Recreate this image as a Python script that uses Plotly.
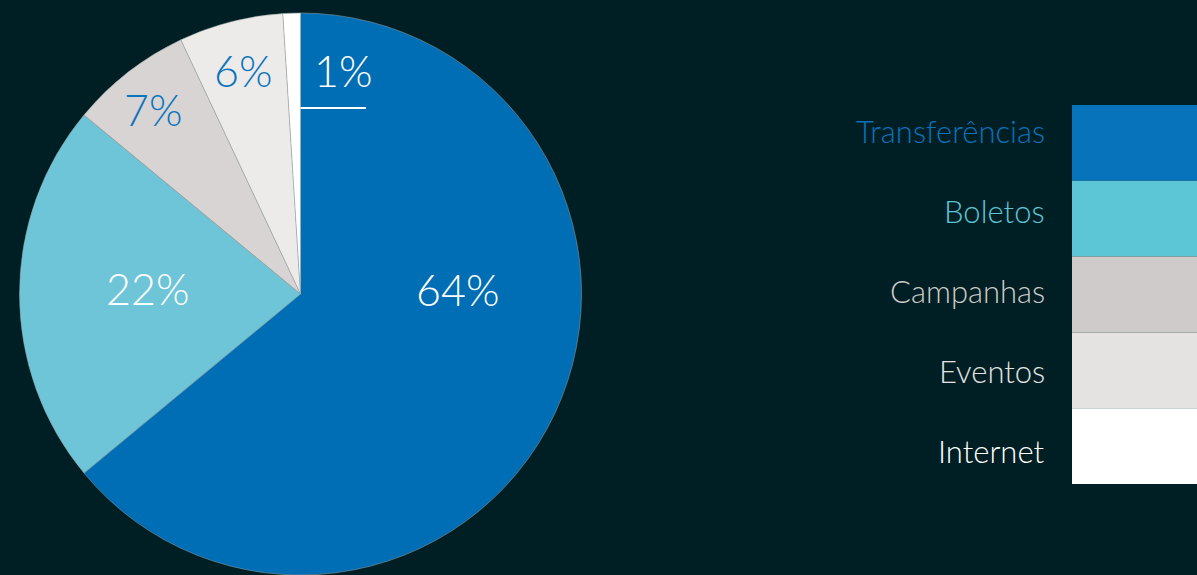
import math
import plotly.graph_objects as go

# ---- data ----
categories = ["Transferências", "Boletos", "Campanhas", "Eventos", "Internet"]
values = [64, 22, 7, 6, 1]
pct_labels = ["64%", "22%", "7%", "6%", "1%"]

# ---- styles ----
W, H = 1197, 575
BG = "#001f24"
slice_colors = ["#006eb5", "#6ec5d8", "#d9d4d4", "#ecebe9", "#ffffff"]
legend_colors = ["#0673bb", "#5cc6d6", "#cfcbca", "#e4e3e1", "#ffffff"]
pct_colors = ["#ffffff", "#ffffff", "#0a74bd", "#0a74bd", "#ffffff"]
FONT = "Lato"

# pie geometry (pixels)
M_TOP = 13
cx_px, R_px = 300.5, 281.0
cy_px = M_TOP + R_px
dom_x = [(cx_px - R_px) / W, (cx_px + R_px) / W]

def to_paper(px, py):
    return px / W, (H - py) / (H - M_TOP)

fig = go.Figure()
fig.add_trace(go.Pie(
    labels=categories,
    values=values,
    sort=False,
    direction="clockwise",
    rotation=0,
    textinfo="none",
    hoverinfo="label+percent",
    marker=dict(colors=slice_colors, line=dict(color="#9aa2a3", width=0.5)),
    domain=dict(x=dom_x, y=[0, 1]),
    showlegend=False,
))

# percentage labels placed along slice bisectors
label_r = [0.56, 0.545, 0.84, 0.82, None]
label_angle_override = [91, None, None, None, None]
label_yshift = [7, 6, -2, 0, 0]
label_xshift = [0, 0, -3, 0, 0]
total = sum(values)
annotations = []
shapes = []
cum = 0
for i, v in enumerate(values):
    a0 = cum / total * 360
    cum += v
    a1 = cum / total * 360
    mid = (a0 + a1) / 2
    if label_r[i] is None:
        continue
    ang = label_angle_override[i] if label_angle_override[i] is not None else mid
    r = label_r[i] * R_px
    px = cx_px + r * math.sin(math.radians(ang))
    py = cy_px - r * math.cos(math.radians(ang))
    x, y = to_paper(px, py)
    annotations.append(dict(x=x, y=y, xref="paper", yref="paper", text=pct_labels[i],
                            showarrow=False, xanchor="center", yanchor="middle",
                            xshift=label_xshift[i], yshift=label_yshift[i],
                            font=dict(family=FONT, size=43, color=pct_colors[i], weight=300)))

# small slice label (callout on the right of 12 o'clock)
x1p, y1p = to_paper(343, 72)
annotations.append(dict(x=x1p, y=y1p, xref="paper", yref="paper", text=pct_labels[4],
                        showarrow=False, xanchor="center", yanchor="middle", yshift=2,
                        font=dict(family=FONT, size=43, color=pct_colors[4], weight=300)))
lx0, ly = to_paper(cx_px, 108)
lx1, _ = to_paper(366, 108)
shapes.append(dict(type="line", xref="paper", yref="paper", x0=lx0, x1=lx1, y0=ly, y1=ly,
                   line=dict(color="#ffffff", width=2)))

# custom legend: colour blocks at the right, labels to their left
box_top, box_h = 105, 75.8
label_base, label_step = 131, 80
for i, cat in enumerate(categories):
    y0p = box_top + i * box_h
    _, yb0 = to_paper(0, y0p)
    _, yb1 = to_paper(0, y0p + box_h)
    shapes.append(dict(type="rect", xref="paper", yref="paper", x0=1072 / W, x1=1.0,
                       y0=yb1, y1=yb0, fillcolor=legend_colors[i], line=dict(width=0)))
    xl, yl = to_paper(1047, label_base + i * label_step)
    annotations.append(dict(x=xl, y=yl, xref="paper", yref="paper", text=cat,
                            showarrow=False, xanchor="right", yanchor="middle",
                            font=dict(family=FONT, size=31, color=legend_colors[i], weight=300)))

fig.update_layout(
    width=W, height=H,
    margin=dict(l=0, r=0, t=M_TOP, b=0),
    paper_bgcolor=BG, plot_bgcolor=BG,
    annotations=annotations, shapes=shapes,
)
fig.write_html(
    "out.html",
    config={"displayModeBar": False},
    post_script="document.body.style.margin='0';document.body.style.background='%s';"
                "document.body.style.overflow='hidden';" % BG,
)
